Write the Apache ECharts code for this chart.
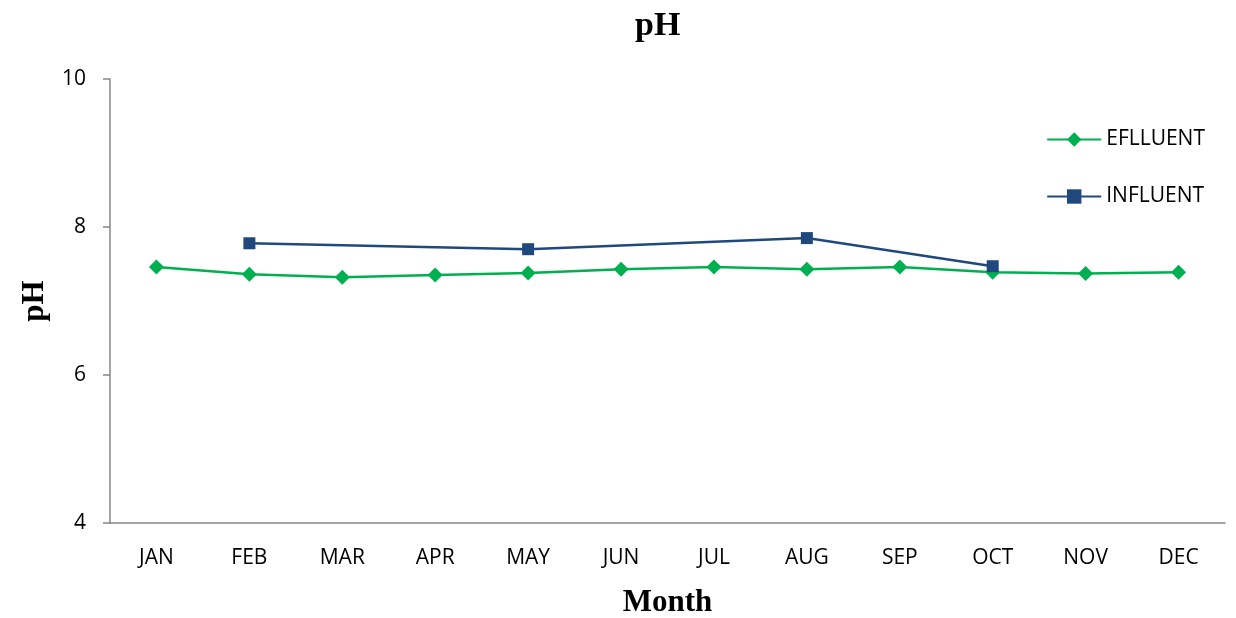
<!DOCTYPE html>
<html>
<head>
<meta charset="utf-8">
<script src="https://cdn.jsdelivr.net/npm/echarts@6/dist/echarts.min.js"></script>
<style>
  html, body { margin: 0; padding: 0; background: #fff; }
  #chart { width: 1236px; height: 618px; }
</style>
</head>
<body>
<div id="chart"></div>
<script>
// months on the x axis
const months = ['JAN', 'FEB', 'MAR', 'APR', 'MAY', 'JUN', 'JUL', 'AUG', 'SEP', 'OCT', 'NOV', 'DEC']
// pH readings
const effluent = [7.46, 7.36, 7.32, 7.35, 7.38, 7.43, 7.46, 7.43, 7.46, 7.39, 7.37, 7.39]
const influent = [null, 7.78, null, null, 7.70, null, null, 7.85, null, 7.47, null, null]

const axisGrey = '#868686'
const chart = echarts.init(document.getElementById('chart'))

chart.setOption({
    animation: false,
    title: {
        text: 'pH',
        left: 630,
        top: 4,
        textStyle: { fontFamily: 'Liberation Serif', fontWeight: 'bold', fontSize: 34, color: '#000' }
    },
    legend: {
        orient: 'vertical',
        right: 26,
        top: 124,
        itemWidth: 54,
        itemHeight: 18,
        itemGap: 36,
        textStyle: { fontFamily: 'Open Sans', fontSize: 21, color: '#000' },
        data: ['EFLLUENT', 'INFLUENT']
    },
    // keep the plot box fixed, don't let labels shrink it
    grid: { left: 110, right: 11, top: 79, bottom: 95, outerBoundsMode: 'none', containLabel: false },
    xAxis: {
        type: 'category',
        data: months,
        boundaryGap: true,
        name: 'Month',
        nameLocation: 'middle',
        nameGap: 64,
        nameTextStyle: { fontFamily: 'Liberation Serif', fontWeight: 'bold', fontSize: 31, color: '#000' },
        axisLine: { lineStyle: { color: axisGrey, width: 1.5 } },
        axisTick: { alignWithLabel: false, length: 8, lineStyle: { color: axisGrey, width: 1.5 } },
        axisLabel: { margin: 25, fontFamily: 'Open Sans', fontSize: 21, color: '#000' },
        splitLine: { show: false }
    },
    yAxis: {
        type: 'value',
        min: 4,
        max: 10,
        interval: 2,
        name: 'pH',
        nameLocation: 'middle',
        nameGap: 60,
        nameTextStyle: { fontFamily: 'Liberation Serif', fontWeight: 'bold', fontSize: 31, color: '#000' },
        axisLine: { show: true, lineStyle: { color: axisGrey, width: 1.5 } },
        axisTick: { show: true, length: 7, lineStyle: { color: axisGrey, width: 1.5 } },
        axisLabel: { margin: 24, fontFamily: 'Open Sans', fontSize: 21, color: '#000' },
        splitLine: { show: false }
    },
    series: [
        {
            name: 'EFLLUENT',
            type: 'line',
            data: effluent,
            symbol: 'diamond',
            symbolSize: 15,
            itemStyle: { color: '#00b050' },
            lineStyle: { color: '#00b050', width: 2.5 }
        },
        {
            name: 'INFLUENT',
            type: 'line',
            data: influent,
            connectNulls: true,
            symbol: 'rect',
            symbolSize: 12,
            itemStyle: { color: '#1f497d' },
            lineStyle: { color: '#1f497d', width: 2.5 }
        }
    ]
})
</script>
</body>
</html>
